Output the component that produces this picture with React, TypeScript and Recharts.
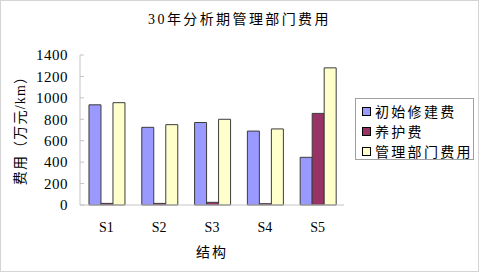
import { Bar, BarChart, Label, XAxis, YAxis } from "recharts";

const categories = ["S1", "S2", "S3", "S4", "S5"];
const initialCost = [935, 725, 770, 690, 445];
const maintenanceCost = [15, 15, 25, 12, 855];
const managementCost = [955, 750, 800, 710, 1280];
const yTicks = [0, 200, 400, 600, 800, 1000, 1200, 1400];

const seriesNames = ["初始修建费", "养护费", "管理部门费用"];
const seriesKeys = ["initial", "maintenance", "management"];
const seriesColors = ["#9999FF", "#993366", "#FFFFCC"];

const data = categories.map((name, i) => ({
  name,
  initial: initialCost[i],
  maintenance: maintenanceCost[i],
  management: managementCost[i],
}));

const FONT = "Liberation Serif, Noto Sans CJK SC, serif";
const AXIS_GRAY = "#c4c4c4";

function YAxisTitle({ viewBox }: { viewBox?: { x: number; y: number; width: number; height: number } }) {
  if (!viewBox) return null;
  const x = viewBox.x + 20;
  const y = viewBox.y + viewBox.height / 2 - 3;
  return (
    <text
      x={x}
      y={y}
      transform={`rotate(-90 ${x} ${y})`}
      textAnchor="middle"
      dominantBaseline="central"
      fontSize={14}
      fontFamily={FONT}
      letterSpacing={1.2}
      fill="#000"
    >
      费用（万元/km）
    </text>
  );
}

export default function App() {
  return (
    <div style={{ position: "absolute", left: 0, top: 0, width: 479, height: 272, background: "#fff" }}>
      <div
        style={{
          position: "absolute",
          top: 8,
          left: 0,
          width: 479,
          textAlign: "center",
          fontFamily: FONT,
          fontSize: 14,
          letterSpacing: 2.4,
          color: "#000",
        }}
      >
        30年分析期管理部门费用
      </div>

      <BarChart
        width={479}
        height={272}
        data={data}
        margin={{ top: 55, right: 135, left: 0, bottom: 12 }}
        barCategoryGap="17%"
        barGap={0}
      >
        <XAxis
          dataKey="name"
          height={55}
          tickLine={false}
          tickSize={0}
          tickMargin={17}
          axisLine={{ stroke: AXIS_GRAY }}
          tick={{ fill: "#000", fontSize: 14, fontFamily: FONT }}
        >
          <Label value="结构" position="insideBottom" offset={3} fill="#000" fontSize={14} fontFamily={FONT} letterSpacing={2} />
        </XAxis>
        <XAxis xAxisId="top" dataKey="name" orientation="top" height={0} tick={false} tickLine={false} axisLine={{ stroke: AXIS_GRAY }} />
        <YAxis
          width={80}
          domain={[0, 1400]}
          ticks={yTicks}
          interval={0}
          tickSize={-4}
          tickMargin={16}
          tickLine={{ stroke: AXIS_GRAY }}
          axisLine={{ stroke: AXIS_GRAY }}
          tick={{ fill: "#000", fontSize: 15, fontFamily: FONT, letterSpacing: 0.5 }}
        >
          <Label content={<YAxisTitle />} position="center" />
        </YAxis>
        <YAxis yAxisId="right" orientation="right" width={0} tick={false} tickLine={false} axisLine={{ stroke: AXIS_GRAY }} />
        {seriesKeys.map((key, i) => (
          <Bar
            key={key}
            dataKey={key}
            name={seriesNames[i]}
            fill={seriesColors[i]}
            stroke="#3c3c3c"
            strokeWidth={1}
            isAnimationActive={false}
          />
        ))}
      </BarChart>

      <div
        style={{
          position: "absolute",
          left: 355,
          top: 98,
          width: 119,
          height: 62,
          border: "1px solid #a0a0a0",
          background: "#fff",
          fontFamily: FONT,
          fontSize: 14,
          letterSpacing: 2.3,
          color: "#000",
          paddingTop: 2,
          boxSizing: "border-box",
        }}
      >
        {seriesNames.map((name, i) => (
          <div key={name} style={{ display: "flex", alignItems: "center", height: 20, whiteSpace: "nowrap" }}>
            <span
              style={{
                display: "inline-block",
                width: 7,
                height: 7,
                marginLeft: 6,
                marginRight: 4,
                background: seriesColors[i],
                border: "1px solid #000",
              }}
            />
            {name}
          </div>
        ))}
      </div>

      <div
        style={{
          position: "absolute",
          inset: 0,
          border: "1px solid #d4d4d4",
          pointerEvents: "none",
        }}
      />
    </div>
  );
}
